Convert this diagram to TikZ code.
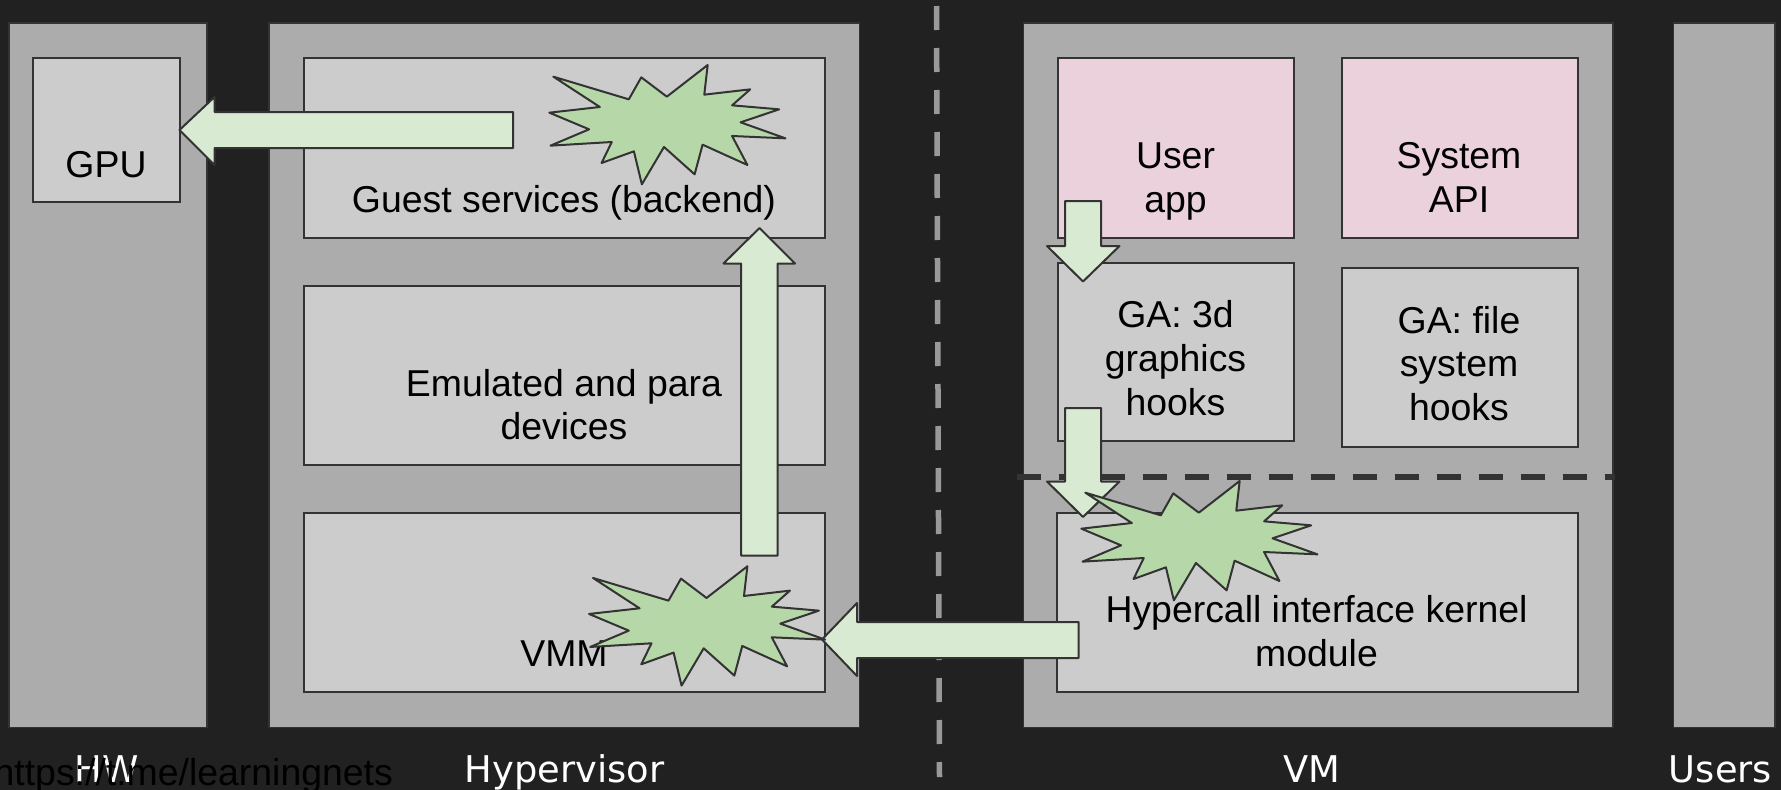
\documentclass[tikz,border=0pt]{standalone}
\usepackage{fontspec}
\setmainfont{Liberation Sans}
\newfontfamily\labelfont{DejaVu Sans}
\definecolor{bgdark}{HTML}{212121}
\definecolor{panelgray}{HTML}{ACACAC}
\definecolor{boxgray}{HTML}{CCCCCC}
\definecolor{edgedark}{HTML}{333333}
\definecolor{pinkbox}{HTML}{EAD1DC}
\definecolor{arrowgreen}{HTML}{D9EAD3}
\definecolor{burstgreen}{HTML}{B6D7A8}
\definecolor{dashgray}{HTML}{999999}
\tikzset{
  x=1pt,y=-1pt,
  panel/.style={draw=edgedark,line width=1.8pt,fill=panelgray},
  graybox/.style={draw=edgedark,line width=2pt,fill=boxgray},
  pinkfill/.style={draw=edgedark,line width=2pt,fill=pinkbox},
  blockarrow/.style={draw=edgedark,line width=2pt,fill=arrowgreen,line join=round},
  burst/.style={draw=edgedark,line width=2pt,fill=burstgreen,line join=round},
  boxtext/.style={anchor=base,inner sep=0pt,text=black,font=\fontsize{37.4}{44}\selectfont},
  paneltitle/.style={anchor=base,inner sep=0pt,text=white,font=\labelfont\fontsize{36.8}{44}\selectfont},
}
\newcommand{\burstpath}[2]{%
  \path[burst,shift={(#1pt,-#2pt)},x=0.5675pt,y=-0.33333pt]
    (975,230)--(1108,298)--(1130,232)--(1175,290)--(1247,195)--(1241,284)--(1322,268)--(1290,316)
    --(1373,328)--(1305,367)--(1384,415)--(1290,408)--(1317,495)--(1238,434)--(1224,523)--(1170,441)
    --(1131,553)--(1117,454)--(1060,489)--(1078,426)--(970,437)--(1038,388)--(968,338)--(1057,321)--cycle;}
\begin{document}
\begin{tikzpicture}
\useasboundingbox (0,0) rectangle (1781,790);
\fill[bgdark] (0,0) rectangle (1781,790);
% panels
\draw[panel] (9,23) rectangle (207,727.5);
\draw[panel] (269,23) rectangle (859.5,727.5);
\draw[panel] (1023.5,23) rectangle (1613,727.5);
\draw[panel] (1673.5,23) rectangle (1775,727.5);
% boundary
\coordinate (sepTop) at (936.5,6);
\coordinate (sepBot) at (939.5,777);
\draw[dashgray,line width=5.5pt,dash pattern=on 24pt off 18pt] (sepTop) -- (sepBot);
% boxes
\draw[graybox] (33,58) rectangle (179.5,202);
\draw[graybox] (303.5,58) rectangle (824.5,238);
\draw[graybox] (303.5,286) rectangle (824.5,465);
\draw[graybox] (303.5,513) rectangle (824.5,692);
\draw[pinkfill] (1057.5,58) rectangle (1293.5,238);
\draw[pinkfill] (1341.5,58) rectangle (1577.5,238);
\draw[graybox] (1057.5,262.5) rectangle (1293.5,441);
\draw[graybox] (1341.5,268) rectangle (1577.5,447);
\draw[graybox] (1056.5,513) rectangle (1577.5,692);
% kernel/user line
\coordinate (ringL) at (1016.5,477);
\coordinate (ringR) at (1615,477);
\draw[edgedark,line width=6pt,dash pattern=on 24pt off 18pt] (ringL) -- (ringR);
% box texts
\node[boxtext] (gpu) at (106,177) {GPU};
\node[boxtext] (guest) at (564,212) {Guest services (backend)};
\node[boxtext] (emu1) at (564,396) {Emulated and para};
\node[boxtext] (emu2) at (564,439.5) {devices};
\node[boxtext] (vmm) at (564,666) {VMM};
\node[boxtext] (user1) at (1175.5,168.7) {User};
\node[boxtext] (user2) at (1175.5,212) {app};
\node[boxtext] (sys1) at (1459,168.7) {System};
\node[boxtext] (sys2) at (1459,212) {API};
\node[boxtext] (ga1) at (1175.5,327.7) {GA: 3d};
\node[boxtext] (ga2) at (1175.5,371) {graphics};
\node[boxtext] (ga3) at (1175.5,415) {hooks};
\node[boxtext] (gf1) at (1459,333) {GA: file};
\node[boxtext] (gf2) at (1459,376.5) {system};
\node[boxtext] (gf3) at (1459,420.5) {hooks};
\node[boxtext] (hc1) at (1316.5,622) {Hypercall interface kernel};
\node[boxtext] (hc2) at (1316.5,666) {module};
% block arrows
\path[blockarrow] (513,112)--(214.5,112)--(214.5,97)--(179.5,130)--(214.5,165)--(214.5,148)--(513,148)--cycle;
\path[blockarrow] (741,555.5)--(741,263.5)--(723.5,263.5)--(759.5,228)--(795,263.5)--(777.5,263.5)--(777.5,555.5)--cycle;
\path[blockarrow] (1065,201)--(1065,246)--(1047,246)--(1083,281.5)--(1119.5,246)--(1101,246)--(1101,201)--cycle;
\path[blockarrow] (1065,408)--(1065,481.5)--(1047,481.5)--(1083,517)--(1119.5,481.5)--(1101,481.5)--(1101,408)--cycle;
\path[blockarrow] (1078.5,622)--(857,622)--(857,603)--(822,639.5)--(857,676)--(857,658)--(1078.5,658)--cycle;
% bursts
\burstpath{0}{0}
\burstpath{39.7}{501.3}
\burstpath{532}{416}
% titles and watermark
\node[paneltitle] (hw) at (107,782) {HW};
\node[paneltitle] (hyp) at (564.5,782) {Hypervisor};
\node[paneltitle] (vm) at (1312,782) {VM};
\node[paneltitle] (usr) at (1720.5,782) {Users};
\node[anchor=base east,inner sep=0pt,text=black,font=\fontsize{37.4}{44}\selectfont] (mark) at (393,785) {https://t.me/learningnets};
\end{tikzpicture}
\end{document}
